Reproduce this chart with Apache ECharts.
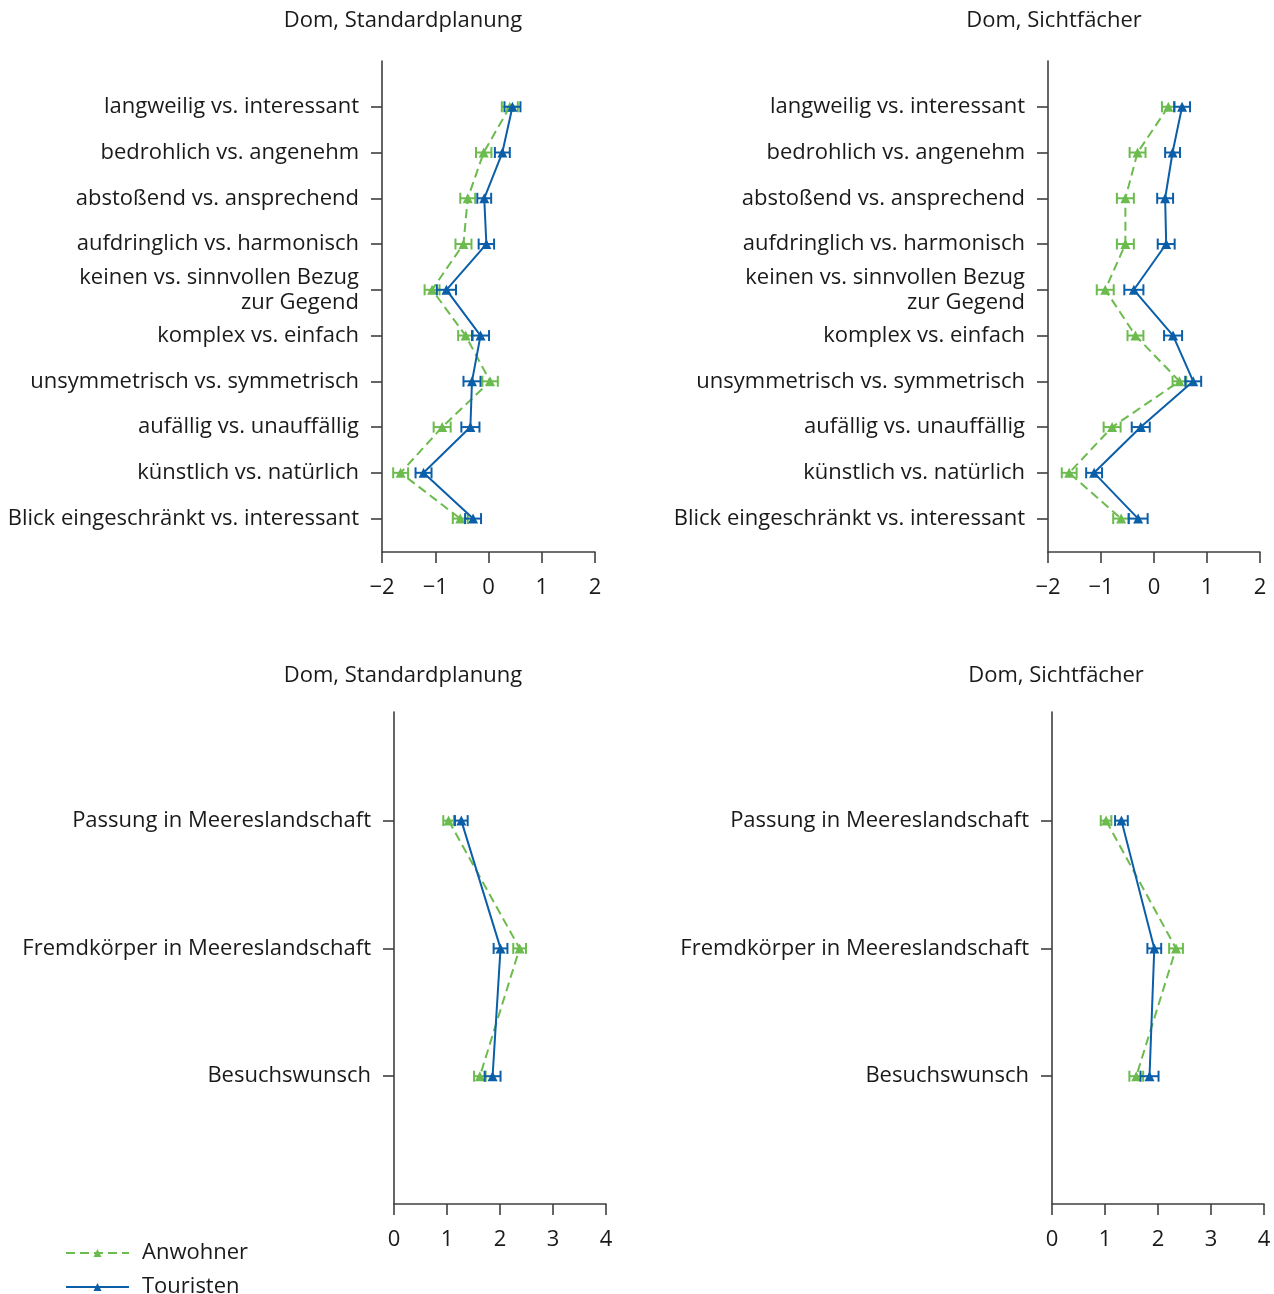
<!DOCTYPE html>
<html>
<head>
<meta charset="utf-8">
<script src="https://cdn.jsdelivr.net/npm/echarts@6/dist/echarts.min.js"></script>
<style>
html,body{margin:0;padding:0;background:#fff;}
#chart{width:1274px;height:1294px;}
</style>
</head>
<body>
<div id="chart"></div>
<script>
// ---------- data ----------
const catsTop = [
  'langweilig vs. interessant',
  'bedrohlich vs. angenehm',
  'abstoßend vs. ansprechend',
  'aufdringlich vs. harmonisch',
  'keinen vs. sinnvollen Bezug\nzur Gegend',
  'komplex vs. einfach',
  'unsymmetrisch vs. symmetrisch',
  'aufällig vs. unauffällig',
  'künstlich vs. natürlich',
  'Blick eingeschränkt vs. interessant'
];
const catsBottom = ['Passung in Meereslandschaft', 'Fremdkörper in Meereslandschaft', 'Besuchswunsch'];
const titles = ['Dom, Standardplanung', 'Dom, Sichtfächer', 'Dom, Standardplanung', 'Dom, Sichtfächer'];
const seriesNames = ['Anwohner', 'Touristen'];
const ticksTop = [-2, -1, 0, 1, 2];
const ticksBottom = [0, 1, 2, 3, 4];

// Top-left: Dom, Standardplanung
const tlAnw     = [0.40, -0.09, -0.39, -0.47, -1.06, -0.43, 0.03, -0.87, -1.65, -0.53];
const tlAnwErr  = [0.15, 0.145, 0.14, 0.15, 0.14, 0.14, 0.145, 0.16, 0.14, 0.14];
const tlTour    = [0.45, 0.26, -0.08, -0.04, -0.79, -0.15, -0.31, -0.34, -1.22, -0.29];
const tlTourErr = [0.15, 0.14, 0.13, 0.145, 0.18, 0.16, 0.16, 0.17, 0.15, 0.15];
// Top-right: Dom, Sichtfächer
const trAnw     = [0.27, -0.31, -0.54, -0.54, -0.92, -0.35, 0.48, -0.79, -1.60, -0.62];
const trAnwErr  = [0.12, 0.15, 0.16, 0.16, 0.16, 0.15, 0.13, 0.16, 0.14, 0.15];
const trTour    = [0.53, 0.35, 0.21, 0.23, -0.38, 0.36, 0.74, -0.25, -1.13, -0.30];
const trTourErr = [0.15, 0.14, 0.15, 0.16, 0.18, 0.17, 0.15, 0.17, 0.15, 0.18];
// Bottom-left: Dom, Standardplanung
const blAnw     = [1.03, 2.37, 1.62];
const blAnwErr  = [0.10, 0.12, 0.11];
const blTour    = [1.27, 2.01, 1.86];
const blTourErr = [0.12, 0.13, 0.15];
// Bottom-right: Dom, Sichtfächer
const brAnw     = [1.02, 2.34, 1.59];
const brAnwErr  = [0.10, 0.13, 0.13];
const brTour    = [1.31, 1.93, 1.84];
const brTourErr = [0.12, 0.13, 0.17];

// ---------- styles ----------
const GREEN = '#6cbb4e';
const BLUE = '#0b5ea8';
const AXIS = '#3f3f3f';
const TEXT = '#1a1a1a';
const FONT = '"Open Sans", "Noto Sans", sans-serif';
const FS = 22;

const grids = [
  {left: 382, width: 213, top: 61, height: 491},
  {left: 1048, width: 212, top: 61, height: 491},
  {left: 394, width: 212, top: 712, height: 492},
  {left: 1052, width: 212, top: 712, height: 492}
];
const titlePos = [[403, 21], [1054, 21], [403, 676], [1056, 676]];

const panels = [
  {anw: tlAnw, anwE: tlAnwErr, tour: tlTour, tourE: tlTourErr, cats: catsTop, ticks: ticksTop},
  {anw: trAnw, anwE: trAnwErr, tour: trTour, tourE: trTourErr, cats: catsTop, ticks: ticksTop},
  {anw: blAnw, anwE: blAnwErr, tour: blTour, tourE: blTourErr, cats: catsBottom, ticks: ticksBottom},
  {anw: brAnw, anwE: brAnwErr, tour: brTour, tourE: brTourErr, cats: catsBottom, ticks: ticksBottom}
];

const minusFmt = v => (v < 0 ? '\u2212' + Math.abs(v) : String(v));

const xAxes = panels.map((p, i) => ({
  type: 'value', gridIndex: i,
  min: p.ticks[0], max: p.ticks[p.ticks.length - 1], interval: 1,
  axisLine: {show: true, onZero: false, lineStyle: {color: AXIS, width: 1.6}},
  axisTick: {show: true, length: 11, lineStyle: {color: AXIS, width: 1.6}},
  axisLabel: {color: TEXT, fontFamily: FONT, fontSize: FS, margin: 25, formatter: minusFmt},
  splitLine: {show: false}
}));

const yAxes = panels.map((p, i) => {
  const idx = p.cats.map((c, k) => k);
  const top = i < 2;
  return {
    type: 'value', gridIndex: i, inverse: true,
    min: top ? -1 : -0.85, max: top ? 9.73 : 3.0,
    axisLine: {show: true, onZero: false, lineStyle: {color: AXIS, width: 1.6}},
    axisTick: {show: true, length: 11, customValues: idx, lineStyle: {color: AXIS, width: 1.6}},
    axisLabel: {
      customValues: idx, color: TEXT, fontFamily: FONT, fontSize: FS, margin: 23,
      lineHeight: 25, align: 'right', padding: [4, 0, 0, 0],
      formatter: v => p.cats[Math.round(v)] || ''
    },
    splitLine: {show: false}
  };
});

function errSeries(vals, errs, color, gi, z) {
  return {
    type: 'custom', name: 'err' + gi + color, xAxisIndex: gi, yAxisIndex: gi, z: z,
    silent: true,
    data: vals.map((v, k) => [v, k, v - errs[k], v + errs[k]]),
    encode: {x: [2, 3], y: 1},
    renderItem: (params, api) => {
      const y = api.value(1);
      const a = api.coord([api.value(2), y]);
      const b = api.coord([api.value(3), y]);
      const st = {stroke: color, lineWidth: 2, fill: null};
      const h = 5.5;
      return {
        type: 'group',
        children: [
          {type: 'line', shape: {x1: a[0], y1: a[1], x2: b[0], y2: b[1]}, style: st},
          {type: 'line', shape: {x1: a[0], y1: a[1] - h, x2: a[0], y2: a[1] + h}, style: st},
          {type: 'line', shape: {x1: b[0], y1: b[1] - h, x2: b[0], y2: b[1] + h}, style: st}
        ]
      };
    }
  };
}

function lineSeries(name, vals, color, dashed, gi, z) {
  return {
    type: 'line', name: name, xAxisIndex: gi, yAxisIndex: gi, z: z,
    data: vals.map((v, k) => [v, k]),
    symbol: 'triangle', symbolSize: 10,
    itemStyle: {color: color},
    lineStyle: {color: color, width: 2, type: dashed ? [9, 5] : 'solid'},
    animation: false
  };
}

const series = [];
panels.forEach((p, i) => {
  series.push(lineSeries(seriesNames[0], p.anw, GREEN, true, i, 2));
  series.push(errSeries(p.anw, p.anwE, GREEN, i, 3));
  series.push(lineSeries(seriesNames[1], p.tour, BLUE, false, i, 4));
  series.push(errSeries(p.tour, p.tourE, BLUE, i, 5));
});

const graphics = titles.map((t, i) => ({
  type: 'text', x: titlePos[i][0], y: titlePos[i][1],
  style: {text: t, fill: TEXT, font: FS + 'px ' + FONT, textAlign: 'center', textVerticalAlign: 'middle'}
}));

const legendBase = {
  orient: 'horizontal', left: 65, padding: 0,
  itemWidth: 63, itemHeight: 10,
  textStyle: {color: TEXT, fontFamily: FONT, fontSize: FS, padding: [0, 0, 0, 8]}
};

const chart = echarts.init(document.getElementById('chart'), null, {renderer: 'canvas'});
chart.setOption({
  backgroundColor: '#fff',
  animation: false,
  grid: grids,
  xAxis: xAxes,
  yAxis: yAxes,
  series: series,
  graphic: graphics,
  legend: [
    Object.assign({}, legendBase, {data: [seriesNames[0]], top: 1242}),
    Object.assign({}, legendBase, {data: [seriesNames[1]], top: 1276})
  ]
});
</script>
</body>
</html>
